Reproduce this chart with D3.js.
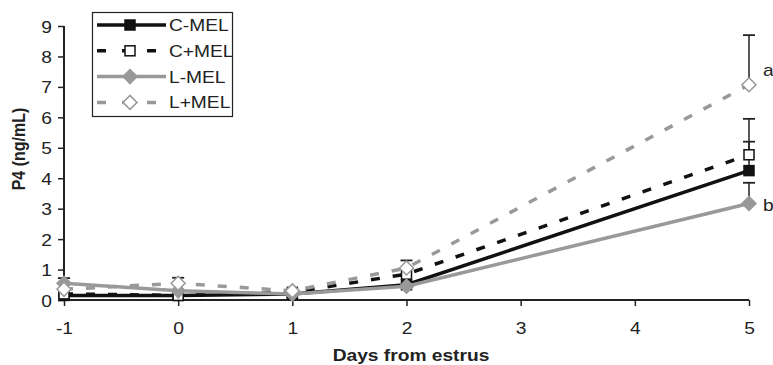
<!DOCTYPE html>
<html><head><meta charset="utf-8">
<script src="https://cdn.jsdelivr.net/npm/d3@7"></script>
<style>body{margin:0;background:#fff}text{font-family:"Liberation Sans",Arial,sans-serif}</style>
</head><body><svg id="c" width="773" height="365"></svg>
<script>
const days = [-1, 0, 1, 2, 5];
const xTicks = [-1, 0, 1, 2, 3, 4, 5];
const yTicks = [0, 1, 2, 3, 4, 5, 6, 7, 8, 9];
const seriesNames = ["C-MEL", "C+MEL", "L-MEL", "L+MEL"];
const cMinus = [0.15, 0.15, 0.2, 0.5, 4.25];
const cPlus = [0.2, 0.15, 0.25, 0.85, 4.77];
const lMinus = [0.55, 0.3, 0.2, 0.45, 3.17];
const lPlus = [0.35, 0.55, 0.3, 1.05, 7.07];
const cMinusErr = [0, 0, 0, 0, 0.95];
const cPlusErr = [0, 0, 0, 0, 1.18];
const lMinusErr = [0.17, 0, 0, 0, 0.68];
const lPlusErr = [0, 0.18, 0, 0.25, 1.63];
const sigLabels = [{t: "a", v: 7.57}, {t: "b", v: 3.12}];

const SX = 1.2, FS = 16;
const svg = d3.select("#c");
const x = d3.scaleLinear().domain([-1, 5]).range([64, 749]);
const y = d3.scaleLinear().domain([0, 9]).range([300, 26]);

const styles = [
  {color: "#111", dash: null, marker: "square", fill: "#111"},
  {color: "#111", dash: "9,13", marker: "square", fill: "#fff"},
  {color: "#999", dash: null, marker: "diamond", fill: "#999"},
  {color: "#999", dash: "9,13", marker: "diamond", fill: "#fff"}
];
const vals = [cMinus, cPlus, lMinus, lPlus];
const errs = [cMinusErr, cPlusErr, lMinusErr, lPlusErr];

function stext(g, px, py, str, opts = {}) {
  const t = g.append("text").attr("transform", `translate(${px},${py}) scale(${SX},1)`)
    .attr("font-size", FS).attr("fill", "#222").text(str);
  if (opts.anchor) t.attr("text-anchor", opts.anchor);
  if (opts.bold) t.attr("font-weight", "bold");
  return t;
}

const xa = svg.append("g").attr("transform", "translate(0,300)")
  .call(d3.axisBottom(x).tickValues(xTicks).tickSize(6).tickFormat(d => String(d)));
const ya = svg.append("g").attr("transform", "translate(64,0)")
  .call(d3.axisLeft(y).tickValues(yTicks).tickSize(6).tickFormat(d => String(d)));
[xa, ya].forEach(a => {
  a.select(".domain").attr("stroke", "#222").attr("stroke-width", 2);
  a.selectAll(".tick line").attr("stroke", "#222").attr("stroke-width", 1.5);
  a.selectAll(".tick text").remove();
});
xa.selectAll(".tick").each(function(d) { stext(d3.select(this), 0, 34, String(d), {anchor: "middle"}); });
ya.selectAll(".tick").each(function(d) { stext(d3.select(this), -12, 6, String(d), {anchor: "end"}); });
xa.select(".domain").attr("d", "M" + x(-1) + ",0H" + x(5));
ya.select(".domain").attr("d", "M0," + y(0) + "V" + y(9));

stext(svg, 411, 361, "Days from estrus", {anchor: "middle", bold: true});
svg.append("text").attr("transform", "translate(25,149) rotate(-90) scale(1," + SX + ")").attr("text-anchor", "middle")
  .attr("font-size", FS).attr("font-weight", "bold").attr("fill", "#222").text("P4 (ng/mL)");

vals.forEach((v, i) => {
  days.forEach((d, j) => {
    if (errs[i][j] > 0) {
      const top = y(v[j] + errs[i][j]);
      svg.append("line").attr("x1", x(d)).attr("x2", x(d)).attr("y1", y(v[j])).attr("y2", top)
        .attr("stroke", "#222").attr("stroke-width", 1.5);
      svg.append("line").attr("x1", x(d) - 6).attr("x2", x(d) + 6).attr("y1", top).attr("y2", top)
        .attr("stroke", "#222").attr("stroke-width", 1.8);
    }
  });
});

const line = d3.line().x((d, j) => x(days[j])).y(d => y(d));
function marker(g, type, cx, cy, st) {
  if (type === "square") {
    g.append("rect").attr("x", cx - 5).attr("y", cy - 5).attr("width", 10).attr("height", 10)
      .attr("fill", st.fill).attr("stroke", st.color).attr("stroke-width", 1.5);
  } else {
    const r = 7;
    g.append("path").attr("d", `M${cx},${cy - r}L${cx + r},${cy}L${cx},${cy + r}L${cx - r},${cy}Z`)
      .attr("fill", st.fill).attr("stroke", st.color).attr("stroke-width", 1.5);
  }
}
const order = [0, 1, 2, 3];
order.forEach(i => {
  const st = styles[i];
  svg.append("path").datum(vals[i]).attr("d", line).attr("fill", "none")
    .attr("stroke", st.color).attr("stroke-width", 3.5)
    .attr("stroke-dasharray", st.dash);
  const g = svg.append("g");
  vals[i].forEach((v, j) => marker(g, st.marker, x(days[j]), y(v), st));
});

sigLabels.forEach(s => stext(svg, 763, y(s.v) + 6, s.t));

const lg = svg.append("g");
lg.append("rect").attr("x", 92.5).attr("y", 12.5).attr("width", 140).attr("height", 104)
  .attr("fill", "#fff").attr("stroke", "#222").attr("stroke-width", 1.2);
seriesNames.forEach((n, i) => {
  const st = styles[i];
  const ly = 25 + i * 25.8;
  lg.append("line").attr("x1", 97).attr("x2", 166).attr("y1", ly).attr("y2", ly)
    .attr("stroke", st.color).attr("stroke-width", 3.5).attr("stroke-dasharray", st.dash ? "9,16" : null);
  marker(lg, st.marker, 130, ly, st);
  stext(lg, 169, ly + 6, n);
});
</script></body></html>
